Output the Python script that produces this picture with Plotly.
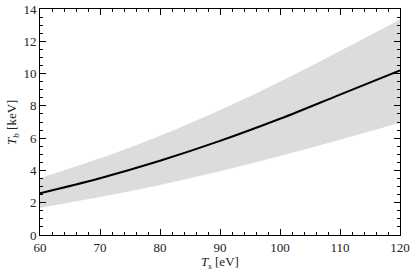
import plotly.graph_objects as go

Ts = [60, 70, 80, 90, 100, 110, 120]
Tb = [2.59, 3.52, 4.60, 5.83, 7.20, 8.70, 10.20]
Tb_upper = [3.52, 4.75, 6.15, 7.75, 9.50, 11.40, 13.35]
Tb_lower = [1.68, 2.35, 3.10, 3.95, 4.90, 5.90, 6.95]

fig = go.Figure()
fig.add_trace(go.Scatter(x=Ts, y=Tb_lower, mode="lines", line=dict(width=0, shape="spline"),
                         showlegend=False, hoverinfo="skip"))
fig.add_trace(go.Scatter(x=Ts, y=Tb_upper, mode="lines", line=dict(width=0, shape="spline"),
                         fill="tonexty", fillcolor="#dcdcdc", showlegend=False, hoverinfo="skip"))
fig.add_trace(go.Scatter(x=Ts, y=Tb, mode="lines", line=dict(color="black", width=2, shape="spline"),
                         showlegend=False))

font = dict(family="Liberation Serif, DejaVu Serif, serif", size=13, color="#222222")
axis_common = dict(showline=True, linecolor="black", linewidth=1, mirror="ticks",
                   ticks="inside", ticklen=6, tickcolor="black", tickwidth=1,
                   showgrid=False, zeroline=False, tickfont=font, automargin=False)
fig.update_xaxes(range=[60, 120], tick0=60, dtick=10,
                 minor=dict(ticks="inside", ticklen=3, dtick=2, tickcolor="black", showgrid=False),
                 **axis_common)
fig.update_yaxes(range=[0, 14], tick0=0, dtick=2,
                 minor=dict(ticks="inside", ticklen=3, dtick=0.5, tickcolor="black", showgrid=False),
                 **axis_common)
fig.add_annotation(text="<i>T</i><sub><i>s</i></sub> [eV]", xref="paper", yref="paper",
                   x=0.5, y=-0.12, yanchor="middle", showarrow=False, font=font)
fig.add_annotation(text="<i>T</i><sub><i>b</i></sub> [keV]", xref="paper", yref="paper",
                   x=-0.078, y=0.5, xanchor="center", textangle=-90, showarrow=False, font=font)
fig.update_layout(width=415, height=274, margin=dict(l=40, r=15, t=9, b=39),
                  plot_bgcolor="white", paper_bgcolor="white", font=font)
fig.write_html("out.html", config={"displayModeBar": False},
               post_script="document.body.style.margin='0';document.body.style.overflow='hidden';")
